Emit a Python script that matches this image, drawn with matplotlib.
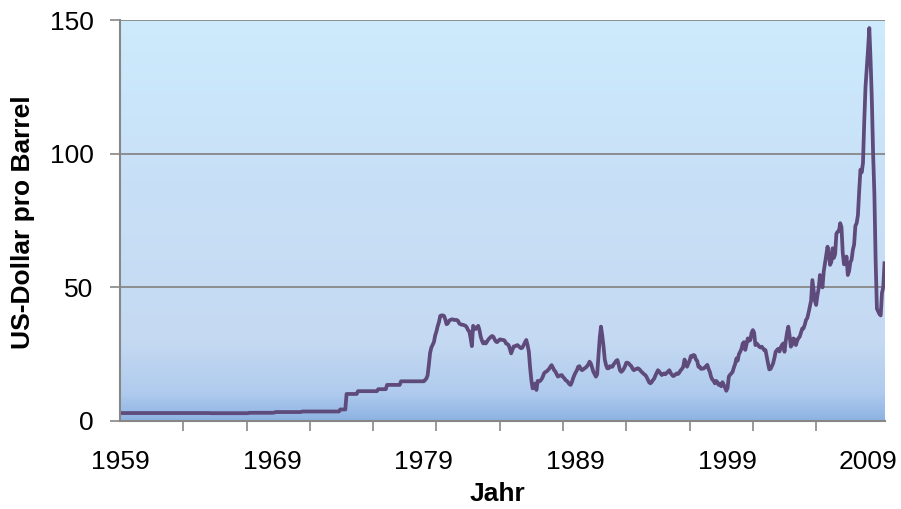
import numpy as np
import matplotlib
matplotlib.use("Agg")
import matplotlib.pyplot as plt
import matplotlib.transforms as mtransforms
from matplotlib.colors import LinearSegmentedColormap

plt.rcParams['font.family'] = ['Liberation Sans', 'DejaVu Sans']

# monthly oil price, US-Dollar per barrel, Jan 1959 .. May 2009 (one row per year)
price_1959_1968 = [
    2.97, 2.97, 2.97, 2.97, 2.97, 2.97, 2.97, 2.97, 2.97, 2.97, 2.97, 2.97,
    2.97, 2.97, 2.97, 2.97, 2.97, 2.97, 2.97, 2.97, 2.97, 2.97, 2.97, 2.97,
    2.97, 2.97, 2.97, 2.97, 2.97, 2.97, 2.97, 2.97, 2.97, 2.97, 2.97, 2.97,
    2.97, 2.97, 2.97, 2.97, 2.97, 2.97, 2.97, 2.97, 2.97, 2.97, 2.97, 2.97,
    2.97, 2.97, 2.97, 2.97, 2.97, 2.97, 2.97, 2.97, 2.97, 2.97, 2.97, 2.97,
    2.97, 2.97, 2.97, 2.97, 2.97, 2.97, 2.97, 2.97, 2.97, 2.97, 2.97, 2.97,
    2.92, 2.92, 2.92, 2.92, 2.92, 2.92, 2.92, 2.92, 2.92, 2.92, 2.92, 2.92,
    2.92, 2.92, 2.92, 2.92, 2.92, 2.92, 2.92, 2.92, 2.92, 2.92, 2.92, 2.92,
    2.92, 2.92, 2.92, 2.92, 2.92, 2.92, 3.07, 3.07, 3.07, 3.07, 3.07, 3.07,
    3.07, 3.07, 3.07, 3.07, 3.07, 3.07, 3.07, 3.07, 3.07, 3.07, 3.07, 3.07,
]
price_1969_1978 = [
    3.07, 3.07, 3.18, 3.35, 3.35, 3.35, 3.35, 3.35, 3.35, 3.35, 3.35, 3.35,
    3.35, 3.35, 3.35, 3.35, 3.35, 3.35, 3.35, 3.35, 3.35, 3.35, 3.35, 3.35,
    3.56, 3.56, 3.56, 3.56, 3.56, 3.56, 3.56, 3.56, 3.56, 3.56, 3.56, 3.56,
    3.56, 3.56, 3.56, 3.56, 3.56, 3.56, 3.56, 3.56, 3.56, 3.56, 3.56, 3.56,
    3.56, 3.56, 3.56, 3.56, 3.56, 3.56, 4.31, 4.31, 4.31, 4.31, 4.31, 10.11,
    10.11, 10.11, 10.11, 10.11, 10.11, 10.11, 10.11, 10.11, 11.16, 11.16, 11.16, 11.16,
    11.16, 11.16, 11.16, 11.16, 11.16, 11.16, 11.16, 11.16, 11.16, 11.16, 11.16, 11.16,
    11.9, 11.9, 11.9, 11.9, 11.9, 11.9, 11.9, 13.5, 13.5, 13.5, 13.5, 13.5,
    13.5, 13.5, 13.5, 13.5, 13.5, 13.5, 14.85, 14.85, 14.85, 14.85, 14.85, 14.85,
    14.85, 14.85, 14.85, 14.85, 14.85, 14.85, 14.85, 14.85, 14.85, 14.85, 14.85, 14.85,
]
price_1979_1988 = [
    14.85, 15.3, 15.85, 17.0, 21.0, 25.5, 27.5, 28.5, 29.5, 32.0, 33.5, 35.5,
    37.0, 39.3, 39.5, 39.5, 39.3, 38.0, 36.2, 36.5, 37.5, 37.8, 38.0, 38.0,
    37.8, 37.8, 37.8, 37.5, 36.5, 36.2, 36.0, 36.0, 35.8, 35.6, 35.0, 34.0,
    33.5, 31.0, 28.0, 35.6, 35.0, 34.4, 35.0, 35.6, 34.0, 31.5, 30.0, 29.0,
    29.5, 29.0, 29.7, 30.5, 31.0, 31.5, 31.8, 31.5, 30.5, 29.7, 29.5, 30.0,
    30.5, 30.5, 30.3, 30.3, 30.0, 29.0, 28.8, 28.4, 27.0, 25.3, 26.5, 27.9,
    27.9, 28.2, 28.4, 28.0, 27.5, 27.2, 27.5, 28.5, 29.5, 30.3, 28.4, 26.0,
    20.0, 15.3, 12.2, 13.0, 14.0, 11.6, 15.0, 14.8, 15.0, 15.6, 16.5, 17.8,
    18.3, 18.5, 19.0, 19.5, 20.3, 20.9, 20.0, 19.0, 18.5, 17.5, 16.6, 17.0,
    17.0, 17.2, 16.5, 16.0, 15.3, 15.0, 14.5, 13.8, 13.5, 14.5, 16.0, 17.2,
]
price_1989_1998 = [
    18.2, 19.0, 20.3, 20.5, 19.5, 19.0, 19.3, 19.7, 20.0, 20.5, 21.2, 22.2,
    21.5, 20.0, 18.4, 17.5, 16.6, 17.5, 24.0, 31.0, 35.3, 32.0, 28.0, 23.0,
    20.9, 19.7, 19.7, 20.5, 20.3, 20.3, 21.2, 21.8, 22.5, 22.8, 21.0, 19.0,
    18.4, 18.8, 19.5, 20.5, 21.8, 21.8, 21.5, 20.9, 20.5, 19.5, 19.0, 19.3,
    19.5, 19.7, 19.5, 19.0, 18.4, 18.0, 17.5, 17.2, 16.5, 15.5, 14.5, 14.1,
    14.5, 15.3, 15.8, 17.0, 18.0, 19.0, 18.5, 17.8, 17.2, 17.5, 17.8, 17.5,
    18.0, 18.5, 19.0, 18.0, 17.3, 16.8, 17.0, 17.5, 17.8, 17.6, 18.2, 19.0,
    19.5, 20.3, 23.0, 22.0, 20.3, 21.5, 22.5, 24.3, 24.0, 24.7, 24.5, 23.0,
    22.5, 20.3, 20.3, 19.5, 19.6, 19.6, 20.0, 20.5, 21.0, 19.5, 18.4, 16.5,
    15.5, 15.0, 14.1, 15.0, 14.5, 13.5, 13.8, 13.0, 14.5, 13.5, 12.5, 11.3,
]
price_1999_2009 = [
    12.3, 16.6, 17.3, 17.8, 18.4, 20.0, 21.3, 23.4, 22.6, 25.0, 25.9, 27.0,
    29.0, 29.5, 26.6, 28.8, 30.9, 30.0, 30.3, 33.0, 34.0, 33.0, 28.4, 29.0,
    28.5, 27.8, 27.5, 27.8, 27.2, 26.5, 26.5, 24.0, 21.5, 19.3, 19.5, 20.5,
    21.6, 23.5, 25.9, 26.5, 27.0, 26.0, 27.5, 28.4, 29.0, 25.9, 30.0, 33.0,
    35.3, 32.0, 27.8, 28.5, 30.9, 30.5, 28.4, 30.0, 31.0, 31.5, 33.0, 34.6,
    34.6, 36.0, 37.8, 38.5, 40.5, 42.8, 45.0, 52.7, 49.0, 45.0, 43.4, 47.0,
    49.6, 54.6, 53.0, 50.0, 56.0, 59.0, 62.0, 65.2, 62.5, 58.4, 59.5, 64.6,
    61.0, 62.5, 70.1, 70.8, 71.0, 74.0, 72.5, 63.0, 58.6, 59.0, 61.5, 54.6,
    56.0, 59.3, 60.4, 64.0, 66.0, 73.0, 74.0, 77.0, 86.0, 94.0, 93.0, 96.5,
    112.0, 125.0, 132.0, 139.0, 147.0, 135.0, 120.0, 100.0, 85.0, 60.0, 42.0, 41.0,
    40.0, 39.5, 47.9, 50.0, 59.0,
]
year_labels = ['1959', '1969', '1979', '1989', '1999', '2009']
y_ticks = [0, 50, 100, 150]

prices = np.array(price_1959_1968 + price_1969_1978 + price_1979_1988
                  + price_1989_1998 + price_1999_2009)
months = np.arange(len(prices))

fig = plt.figure(figsize=(9.01, 5.09), dpi=100)
ax = fig.add_axes([120 / 901, 1 - 421 / 509, 764.5 / 901, 401 / 509])

# gradient fill of the plot area (light at the top, darker blue at the bottom)
grad = LinearSegmentedColormap.from_list('bg', [
    (0.0, '#8db3e2'), (0.07, '#b0cbee'), (0.2, '#c5daf2'),
    (0.6, '#c8e0f7'), (1.0, '#cdebfd')])
ax.imshow(np.linspace(0, 1, 256).reshape(-1, 1), cmap=grad, aspect='auto',
          origin='lower', extent=[0, len(prices) - 1, 0, 150], zorder=0)

for v in y_ticks[1:]:
    ax.axhline(v, color='#878787', lw=1.3, zorder=1)

ax.plot(months, prices, color='#5e4a7b', lw=2.7, solid_joinstyle='round', zorder=3)

ax.set_xlim(0, len(prices) - 1)
ax.set_ylim(0, 150)

ax.set_yticks(y_ticks)
ax.tick_params(axis='y', direction='out', length=7, width=1.2, color='#878787',
               labelsize=19, pad=12)

ax.set_xticks(np.arange(0, 601, 120))
ax.set_xticklabels(year_labels)
ax.set_xticks(np.arange(0, 601, 50), minor=True)
ax.tick_params(axis='x', which='major', length=0, labelsize=19, pad=21)
ax.tick_params(axis='x', which='minor', direction='out', length=7, width=1.2,
               color='#878787')
last = ax.get_xticklabels()[-1]
last.set_transform(last.get_transform()
                   + mtransforms.ScaledTranslation(-11 / 100, 0, fig.dpi_scale_trans))

for side in ['top', 'right']:
    ax.spines[side].set_visible(False)
for side in ['left', 'bottom']:
    ax.spines[side].set_color('#878787')
    ax.spines[side].set_linewidth(1.5)
    ax.spines[side].set_zorder(4)

fig.text(23 / 901, 1 - 222 / 509, 'US-Dollar pro Barrel', rotation=90,
         ha='center', va='center', fontsize=19, fontweight='bold')
fig.text(497 / 901, 1 - 494 / 509, 'Jahr', ha='center', va='center',
         fontsize=19, fontweight='bold')

fig.savefig('out.png', dpi=100)
